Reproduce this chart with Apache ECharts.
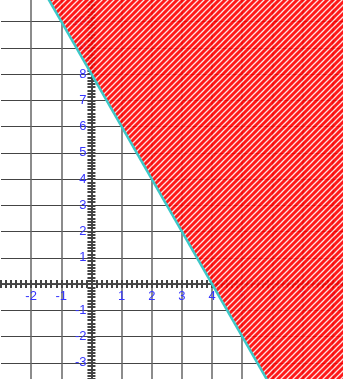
<!DOCTYPE html>
<html>
<head>
<meta charset="utf-8">
<script src="https://cdn.jsdelivr.net/npm/echarts@6/dist/echarts.min.js"></script>
<style>
  html, body { margin: 0; padding: 0; background: #fff; }
  #chart { width: 343px; height: 379px; }
</style>
</head>
<body>
<div id="chart"></div>
<script>
// axis ranges (integer min so interval ticks land on whole numbers)
var xRange = [-3, 9];
var yRange = [-4, 11];
var xTickLabels = ['-2', '-1', '1', '2', '3', '4', '5', '6', '7', '8'];
var yTickLabels = ['-3', '-2', '-1', '1', '2', '3', '4', '5', '6', '7', '8', '9', '10'];

// boundary line y = -2x + 8
var boundaryX = [-2, 6];
var boundaryY = [12, -4];

// shaded half-plane (above the line)
var regionX = [-2, 6, 10, 10];
var regionY = [12, -4, -4, 12];

// layout: pixel sizes of one unit
var gridLeft = 1, gridTop = -4.75;
var unitX = 30.15, unitY = 26.25;
var zeroX = gridLeft + (0 - xRange[0]) * unitX;
var zeroY = gridTop + (yRange[1] - 0) * unitY;
var gridW = (xRange[1] - xRange[0]) * unitX;
var gridH = (yRange[1] - yRange[0]) * unitY;

// hatch pattern: red with white "/" stripes
var tile = document.createElement('canvas');
tile.width = 6; tile.height = 6;
var g = tile.getContext('2d');
g.fillStyle = '#ff0000';
g.fillRect(0, 0, 6, 6);
g.strokeStyle = 'rgba(255,235,235,0.95)';
g.lineWidth = 1.3;
g.beginPath();
g.moveTo(-1, 7); g.lineTo(7, -1);
g.moveTo(-4, 4); g.lineTo(4, -4);
g.moveTo(2, 10); g.lineTo(10, 2);
g.stroke();

var axisCol = '#444';
var labelCol = '#3535ff';
var labelFont = { color: labelCol, fontSize: 13, fontFamily: 'Liberation Sans' };

function xAxisDef(pos) {
  return {
    type: 'value', position: pos, min: xRange[0], max: xRange[1], interval: 1,
    axisLine: { show: true, onZero: true, onZeroAxisIndex: 0, lineStyle: { color: axisCol, width: 1.5 } },
    axisTick: { show: true, length: 4, lineStyle: { color: axisCol, width: 2 } },
    minorTick: { show: true, splitNumber: 6, length: 4, lineStyle: { color: axisCol, width: 2 } },
    axisLabel: { show: false },
    splitLine: {
      show: pos === 'bottom',
      lineStyle: { color: ['rgba(0,0,0,0)', '#666', '#666', '#666', '#666', '#666', '#666', '#666', '#666', '#666', '#666', '#666', '#666'], width: 1.5 }
    }
  };
}

function yAxisDef(pos) {
  return {
    type: 'value', position: pos, min: yRange[0], max: yRange[1], interval: 1,
    axisLine: { show: true, onZero: true, onZeroAxisIndex: 0, lineStyle: { color: axisCol, width: 1.5 } },
    axisTick: { show: true, length: 4, lineStyle: { color: axisCol, width: 2 } },
    minorTick: { show: true, splitNumber: 8, length: 4, lineStyle: { color: axisCol, width: 2 } },
    axisLabel: { show: false },
    splitLine: { show: pos === 'left', lineStyle: { color: '#444', width: 1 } }
  };
}

// label-only axes shifted onto the zero lines
var xLabelAxis = {
  type: 'value', position: 'bottom', min: xRange[0], max: xRange[1], interval: 1,
  offset: -(gridTop + gridH - zeroY),
  axisLine: { show: false, onZero: false }, axisTick: { show: false }, splitLine: { show: false },
  axisLabel: Object.assign({ margin: 6, formatter: function (v) {
    return xTickLabels.indexOf(String(v)) >= 0 ? String(v) : '';
  } }, labelFont)
};
var yLabelAxis = {
  type: 'value', position: 'left', min: yRange[0], max: yRange[1], interval: 1,
  offset: -(zeroX - gridLeft),
  axisLine: { show: false, onZero: false }, axisTick: { show: false }, splitLine: { show: false },
  axisLabel: Object.assign({ margin: 5, formatter: function (v) {
    return yTickLabels.indexOf(String(v)) >= 0 ? String(v) : '';
  } }, labelFont)
};

var chart = echarts.init(document.getElementById('chart'));
chart.setOption({
  animation: false,
  backgroundColor: '#fff',
  grid: { left: gridLeft, top: gridTop, width: gridW, height: gridH, containLabel: false, outerBoundsMode: 'none' },
  xAxis: [xAxisDef('bottom'), xAxisDef('top'), xLabelAxis],
  yAxis: [yAxisDef('left'), yAxisDef('right'), yLabelAxis],
  series: [
    {
      type: 'custom',
      clip: true,
      z: 3,
      data: regionX.map(function (x, i) { return [x, regionY[i]]; }),
      renderItem: function (params, api) {
        if (params.dataIndex !== 0) return null;
        var pts = regionX.map(function (x, i) { return api.coord([x, regionY[i]]); });
        return {
          type: 'polygon',
          shape: { points: pts },
          style: { fill: { image: tile, repeat: 'repeat' }, opacity: 0.9 }
        };
      }
    },
    {
      type: 'line',
      z: 4,
      symbol: 'none',
      data: boundaryX.map(function (x, i) { return [x, boundaryY[i]]; }),
      lineStyle: { color: '#3cc8c8', width: 2.5 }
    }
  ]
});
</script>
</body>
</html>
